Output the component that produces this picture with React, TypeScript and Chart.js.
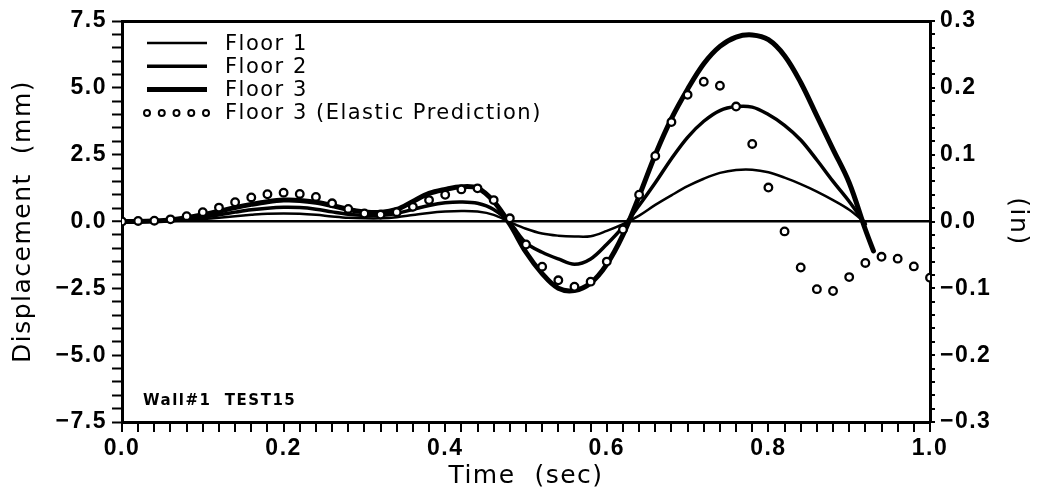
import React, { useEffect, useRef } from 'react';
import { Chart, registerables } from 'chart.js';

Chart.register(...registerables);

// ---------- data ----------
const floorTime = [
  0.00, 0.02, 0.04, 0.06, 0.08, 0.10, 0.12, 0.14, 0.16, 0.18,
  0.20, 0.22, 0.24, 0.26, 0.28, 0.30, 0.32, 0.34, 0.36, 0.38,
  0.40, 0.42, 0.44, 0.46, 0.48, 0.50, 0.52, 0.54, 0.56, 0.58,
  0.60, 0.62, 0.64, 0.66, 0.68, 0.70, 0.72, 0.74, 0.76, 0.78,
  0.80, 0.82, 0.84, 0.86, 0.88, 0.90, 0.92,
];

const floor1Disp = [
  0.00, 0.00, 0.01, 0.02, 0.05, 0.09, 0.14, 0.20, 0.25, 0.29,
  0.30, 0.29, 0.25, 0.19, 0.14, 0.12, 0.12, 0.16, 0.24, 0.32,
  0.37, 0.39, 0.37, 0.25, -0.02, -0.27, -0.45, -0.53, -0.56, -0.55,
  -0.35, -0.10, 0.22, 0.62, 0.98, 1.32, 1.60, 1.82, 1.93, 1.94,
  1.84, 1.64, 1.40, 1.12, 0.80, 0.44, -0.05,
];

const floor2Disp = [
  0.00, 0.00, 0.01, 0.04, 0.09, 0.16, 0.25, 0.35, 0.44, 0.50,
  0.53, 0.52, 0.46, 0.36, 0.27, 0.22, 0.22, 0.30, 0.45, 0.60,
  0.70, 0.73, 0.68, 0.45, -0.05, -0.80, -1.15, -1.40, -1.60, -1.40,
  -0.85, -0.20, 0.60, 1.45, 2.35, 3.15, 3.75, 4.15, 4.30, 4.28,
  4.00, 3.60, 3.05, 2.30, 1.50, 0.75, -0.10,
];

const floor3Time = [
  0.00, 0.02, 0.04, 0.06, 0.08, 0.10, 0.12, 0.14, 0.16, 0.18,
  0.20, 0.22, 0.24, 0.26, 0.28, 0.30, 0.32, 0.34, 0.36, 0.38,
  0.40, 0.42, 0.44, 0.46, 0.48, 0.50, 0.52, 0.54, 0.56, 0.58,
  0.60, 0.62, 0.64, 0.66, 0.68, 0.70, 0.72, 0.74, 0.76, 0.78,
  0.80, 0.82, 0.84, 0.86, 0.88, 0.90, 0.92, 0.93,
];

const floor3Disp = [
  0.00, 0.00, 0.02, 0.06, 0.14, 0.25, 0.38, 0.52, 0.64, 0.74,
  0.80, 0.79, 0.72, 0.60, 0.45, 0.36, 0.34, 0.45, 0.75, 1.05,
  1.20, 1.30, 1.25, 0.75, -0.10, -1.15, -1.95, -2.50, -2.58, -2.30,
  -1.60, -0.50, 0.95, 2.50, 3.85, 4.95, 5.90, 6.55, 6.90, 6.98,
  6.80, 6.20, 5.20, 3.95, 2.70, 1.45, -0.30, -1.10,
];

const elasticTime = [
  0.00, 0.02, 0.04, 0.06, 0.08, 0.10, 0.12, 0.14, 0.16, 0.18,
  0.20, 0.22, 0.24, 0.26, 0.28, 0.30, 0.32, 0.34, 0.36, 0.38,
  0.40, 0.42, 0.44, 0.46, 0.48, 0.50, 0.52, 0.54, 0.56, 0.58,
  0.60, 0.62, 0.64, 0.66, 0.68, 0.70, 0.72, 0.74, 0.76, 0.78,
  0.80, 0.82, 0.84, 0.86, 0.88, 0.90, 0.92, 0.94, 0.96, 0.98,
  1.00,
];

const elasticDisp = [
  0.00, 0.02, 0.03, 0.08, 0.20, 0.35, 0.52, 0.72, 0.90, 1.02,
  1.08, 1.03, 0.92, 0.68, 0.47, 0.30, 0.26, 0.35, 0.55, 0.80,
  1.00, 1.20, 1.24, 0.80, 0.12, -0.86, -1.69, -2.20, -2.44, -2.25,
  -1.50, -0.30, 1.00, 2.45, 3.72, 4.74, 5.23, 5.08, 4.30, 2.90,
  1.27, -0.37, -1.72, -2.53, -2.60, -2.08, -1.55, -1.32, -1.39, -1.68,
  -2.10,
];

const timeMajorTicks = [0.0, 0.2, 0.4, 0.6, 0.8, 1.0];
const mmMajorTicks = [-7.5, -5.0, -2.5, 0.0, 2.5, 5.0, 7.5];
const inchMajorTicks = [-0.3, -0.2, -0.1, 0.0, 0.1, 0.2, 0.3];

const seriesLabels = ['Floor 1', 'Floor 2', 'Floor 3', 'Floor 3 (Elastic Prediction)'];
const panelNote = 'Wall#1  TEST15';

// ---------- helpers ----------
const isMajor = (list: number[], v: number) => list.some((m) => Math.abs(m - v) < 1e-6);
const fmt = (v: number) => (Math.abs(v) < 1e-9 ? '0.0' : v.toFixed(1)).replace('-', '\u2212');
const pairs = (xs: number[], ys: number[]) => ys.map((y, i) => ({ x: xs[i], y }));

const TICK_FONT = { family: "'Liberation Sans Narrow', 'Liberation Sans', sans-serif", size: 23, weight: 'bold' as const };
const TITLE_FONT = { family: "'DejaVu Sans', sans-serif", size: 25 };

const spacingPlugin = {
  id: 'letterSpacing',
  beforeUpdate(chart: any) {
    try { chart.ctx.letterSpacing = '1.5px'; } catch (e) { /* ignore */ }
  },
  beforeDraw(chart: any) {
    try { chart.ctx.letterSpacing = '1.5px'; } catch (e) { /* ignore */ }
  },
};

const insideLegend = {
  id: 'insideLegend',
  afterDatasetsDraw(chart: any) {
    const ctx = chart.ctx;
    const { left, top, bottom } = chart.chartArea;
    ctx.save();
    ctx.fillStyle = '#000';
    ctx.strokeStyle = '#000';
    ctx.textAlign = 'left';
    ctx.textBaseline = 'alphabetic';
    ctx.font = "21px 'DejaVu Sans', sans-serif";
    chart.data.datasets.forEach((ds: any, i: number) => {
      const rowY = top + 22 + i * 23.3;
      const x0 = left + 25;
      const x1 = left + 85;
      if (ds.showLine === false) {
        ctx.lineWidth = 2;
        for (let k = 0; k < 5; k++) {
          ctx.beginPath();
          ctx.arc(x0 + k * 14.75, rowY, 3, 0, Math.PI * 2);
          ctx.fillStyle = '#fff';
          ctx.fill();
          ctx.stroke();
        }
        ctx.fillStyle = '#000';
      } else {
        ctx.lineWidth = ds.borderWidth;
        ctx.beginPath();
        ctx.moveTo(x0, rowY);
        ctx.lineTo(x1, rowY);
        ctx.stroke();
      }
      ctx.fillText(ds.label, left + 103, rowY + 6.5);
    });
    ctx.font = "bold 15px 'DejaVu Sans', sans-serif";
    ctx.fillText(panelNote, left + 21, bottom - 17);
    ctx.restore();
  },
};

export default function App() {
  const canvasRef = useRef<HTMLCanvasElement | null>(null);

  useEffect(() => {
    document.body.style.margin = '0';
    const canvas = canvasRef.current;
    if (!canvas) return;

    const lineBase = {
      type: 'line' as const,
      borderColor: '#000',
      backgroundColor: '#000',
      pointRadius: 0,
      tension: 0.35,
      fill: false,
      borderCapStyle: 'round' as const,
      borderJoinStyle: 'round' as const,
      xAxisID: 'x',
      yAxisID: 'y',
      order: 1,
    };

    const chart = new Chart(canvas, {
      type: 'line',
      data: {
        datasets: [
          { ...lineBase, label: seriesLabels[0], data: pairs(floorTime, floor1Disp), borderWidth: 2.5 },
          { ...lineBase, label: seriesLabels[1], data: pairs(floorTime, floor2Disp), borderWidth: 3.5 },
          { ...lineBase, label: seriesLabels[2], data: pairs(floor3Time, floor3Disp), borderWidth: 5 },
          {
            type: 'line',
            label: seriesLabels[3],
            data: pairs(elasticTime, elasticDisp),
            showLine: false,
            pointRadius: 3.8,
            pointBorderWidth: 2.3,
            pointBorderColor: '#000',
            pointBackgroundColor: '#fff',
            borderColor: '#000',
            xAxisID: 'x',
            yAxisID: 'y',
            order: 0,
          },
        ],
      },
      options: {
        responsive: false,
        animation: false,
        devicePixelRatio: 1,
        layout: { padding: { top: 21, left: 0, right: 0, bottom: 0 } },
        plugins: {
          legend: { display: false },
          tooltip: { enabled: false },
        },
        scales: {
          x: {
            type: 'linear',
            position: 'bottom',
            min: 0,
            max: 1,
            afterFit: (s: any) => { s.height = 78; },
            border: { display: true, color: '#000', width: 3 },
            grid: { drawOnChartArea: false, drawTicks: true, tickLength: 10, color: '#000', tickColor: '#000', lineWidth: 2, tickWidth: 2 },
            ticks: {
              stepSize: 0.02,
              autoSkip: false,
              maxRotation: 0,
              padding: 3,
              color: '#000',
              font: TICK_FONT,
              callback: (v: any) => (isMajor(timeMajorTicks, Number(v)) ? fmt(Number(v)) : ''),
            },
            title: {
              display: true,
              text: 'Time  (sec)',
              color: '#000',
              font: TITLE_FONT,
              padding: { top: 0, bottom: 9 },
            },
          },
          xTop: {
            type: 'linear',
            position: 'top',
            min: 0,
            max: 1,
            afterFit: (s: any) => { s.height = 0; },
            border: { display: true, color: '#000', width: 3 },
            grid: { display: false, drawTicks: false },
            ticks: { display: false },
          },
          y: {
            type: 'linear',
            position: 'left',
            min: -7.5,
            max: 7.5,
            afterFit: (s: any) => { s.width = 122; },
            border: { display: true, color: '#000', width: 3 },
            grid: {
              drawOnChartArea: true,
              drawTicks: true,
              tickLength: 10,
              color: (c: any) => (c.tick && Math.abs(c.tick.value) < 1e-9 ? '#000' : 'rgba(0,0,0,0)'),
              lineWidth: (c: any) => (c.tick && Math.abs(c.tick.value) < 1e-9 ? 2.5 : 1),
              tickColor: '#000',
              tickWidth: 2,
            },
            ticks: {
              stepSize: 0.5,
              autoSkip: false,
              padding: 5,
              color: '#000',
              font: TICK_FONT,
              callback: (v: any) => (isMajor(mmMajorTicks, Number(v)) ? fmt(Number(v)) : ''),
            },
            title: {
              display: true,
              text: 'Displacement  (mm)',
              color: '#000',
              font: TITLE_FONT,
              padding: { top: 8, bottom: 0 },
            },
          },
          y2: {
            type: 'linear',
            position: 'right',
            min: -0.3,
            max: 0.3,
            afterFit: (s: any) => { s.width = 117; },
            border: { display: true, color: '#000', width: 3 },
            grid: { drawOnChartArea: false, drawTicks: true, tickLength: 5, color: '#000', tickColor: '#000', lineWidth: 2, tickWidth: 2 },
            ticks: {
              stepSize: 0.02,
              autoSkip: false,
              padding: 5,
              color: '#000',
              font: TICK_FONT,
              callback: (v: any) => (isMajor(inchMajorTicks, Number(v)) ? fmt(Number(v)) : ''),
            },
            title: {
              display: true,
              text: '(in)',
              color: '#000',
              font: TITLE_FONT,
              padding: { top: 15, bottom: 0 },
            },
          },
        },
      },
      plugins: [spacingPlugin, insideLegend],
    } as any);

    return () => chart.destroy();
  }, []);

  return (
    <div style={{ position: 'relative', width: 1047, height: 500, background: '#fff' }}>
      <canvas ref={canvasRef} width={1047} height={500} style={{ display: 'block' }} />
    </div>
  );
}
